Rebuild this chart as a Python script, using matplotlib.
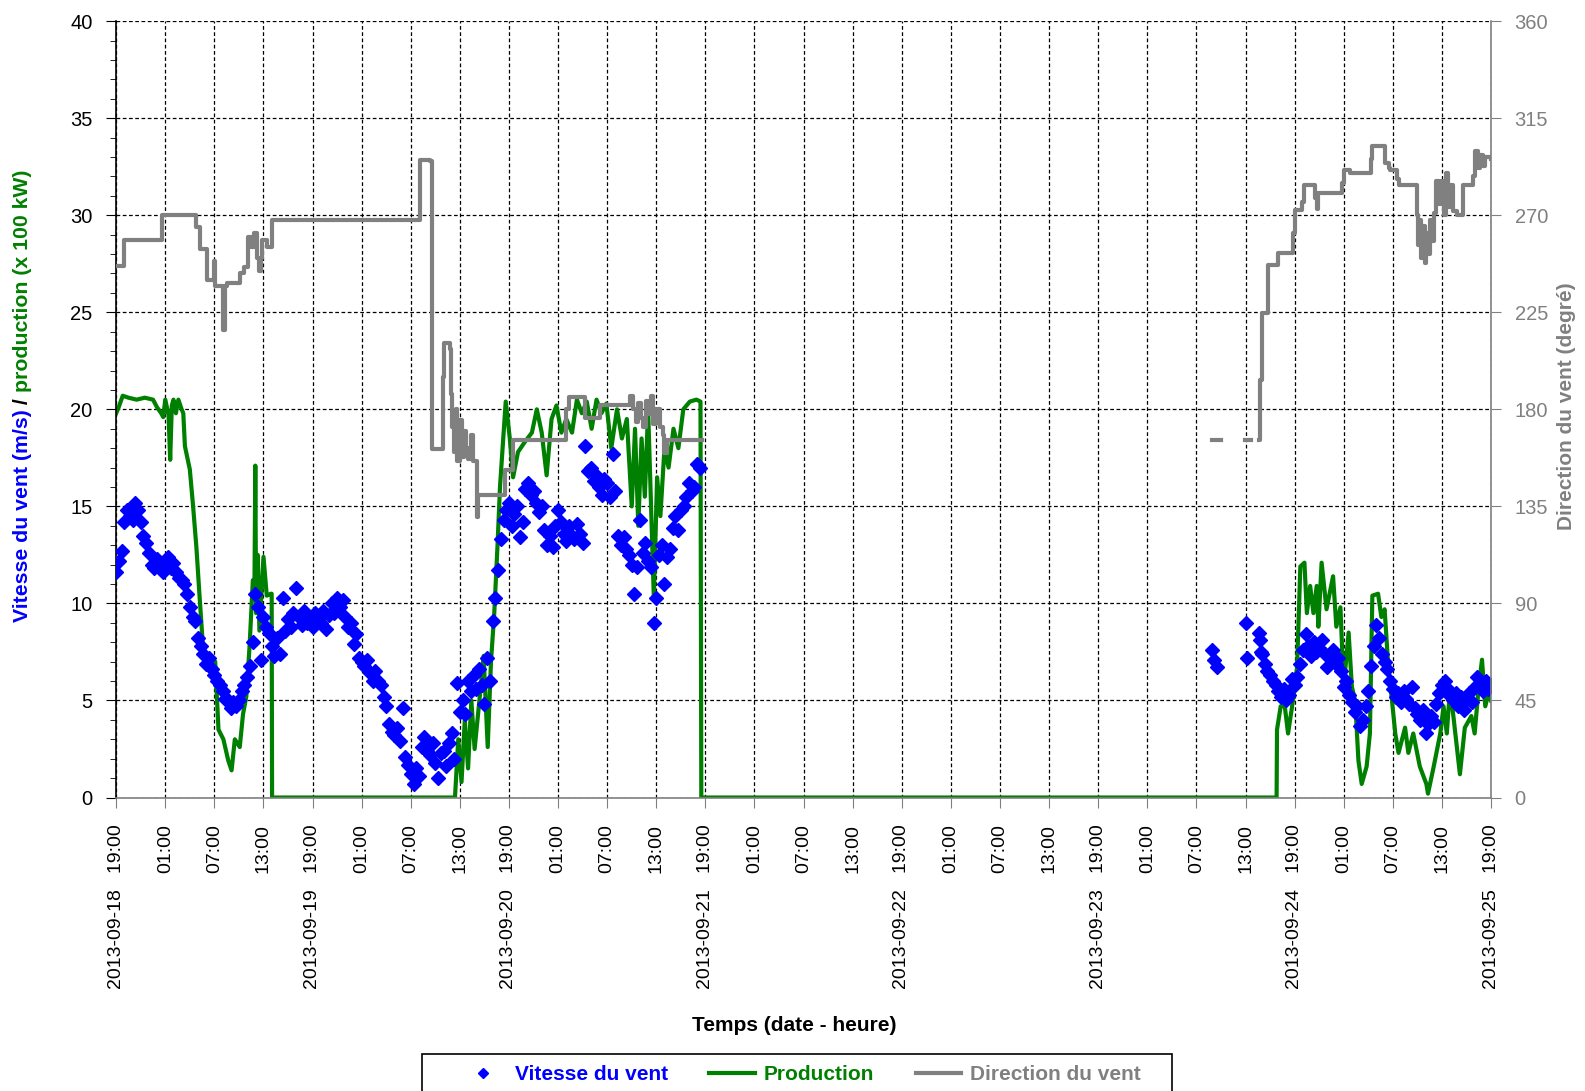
import numpy as np
import matplotlib
matplotlib.use('Agg')
import matplotlib.pyplot as plt
from matplotlib.lines import Line2D
from matplotlib.patches import Rectangle
from matplotlib.ticker import MultipleLocator

plt.rcParams['font.family'] = ['Liberation Sans', 'DejaVu Sans']

BLUE = '#0000FF'
GREEN = '#008000'
GREY = '#808080'

# --- wind speed (m/s), one value every 20 min ---
# 2013-09-18 19:00 -> 2013-09-21 18:20
ws_a = [11.6, 12.2, 12.7, 14.2, 14.8, 14.5, 14.3, 15.2, 14.8, 14.2, 13.5, 13.1,
        12.6, 12.0, 11.8, 12.3, 11.9, 11.6, 12.0, 12.4, 11.8, 12.1, 11.6, 11.3,
        11.2, 11.0, 10.5, 9.8, 9.3, 9.1, 8.2, 7.8, 7.4, 6.9, 7.2, 6.6,
        6.3, 6.0, 5.8, 5.5, 5.1, 5.0, 4.6, 4.9, 4.7, 5.0, 5.5, 5.8,
        6.2, 6.8, 8.0, 10.5, 9.8, 7.1, 9.3, 8.8, 8.5, 7.8, 7.3, 8.2,
        7.4, 10.3, 8.6, 9.2, 8.8, 9.5, 10.8, 9.3, 8.9, 9.6, 9.0, 9.3,
        8.8, 9.5, 9.2, 9.0, 9.6, 8.7, 9.4, 10.0, 9.5, 10.3, 9.8, 10.2,
        9.3, 8.8, 9.0, 7.9, 8.4, 7.2, 7.0, 6.8, 7.1, 6.4, 6.0, 6.5,
        6.0, 5.8, 5.2, 4.7, 3.8, 3.4, 3.2, 3.6, 2.9, 4.6, 2.1, 1.7,
        1.2, 0.7, 1.5, 1.1, 2.6, 3.1, 2.4, 2.2, 2.8, 1.8, 1.0, 2.3,
        2.4, 1.6, 2.8, 3.3, 2.0, 5.9, 4.4, 5.0, 4.3, 6.0, 5.5, 6.3,
        5.6, 6.6, 5.8, 4.8, 7.2, 6.0, 9.1, 10.3, 11.7, 13.3, 14.3, 14.8,
        15.2, 14.0, 14.6, 15.0, 13.4, 14.2, 15.9, 16.2, 15.6, 15.8, 15.2, 14.7,
        15.0, 13.8, 13.0, 13.5, 12.9, 14.0, 14.8, 14.2, 13.6, 13.2, 14.0, 13.5,
        13.3, 14.1, 13.6, 13.1, 18.1, 16.8, 17.0, 16.3, 16.6, 16.0, 15.6, 16.4,
        16.2, 15.5, 17.7, 15.8, 13.5, 13.0, 13.4, 12.8, 12.5, 12.0, 10.5, 11.9,
        14.3, 12.6, 13.1, 12.2, 11.9, 9.0, 10.3, 12.5, 13.0, 11.0, 12.4, 12.8,
        13.9, 14.5, 13.8, 14.8, 15.0, 15.5, 16.2, 15.8, 16.0, 17.2, 17.0]
# isolated readings on 2013-09-24 morning (hours from start)
ws_b_h = [133.9, 134.2, 134.5, 138.1, 138.2, 139.7, 139.8, 139.9]
ws_b = [7.6, 7.1, 6.7, 9.0, 7.2, 8.5, 8.1, 7.5]
# 2013-09-24 11:00 -> 2013-09-25 19:00
ws_c = [7.4, 6.9, 6.5, 6.3, 6.0, 5.8, 5.5, 5.2, 5.6, 5.0, 5.3, 6.1,
        5.8, 6.2, 6.9, 7.6, 8.4, 7.8, 7.3, 8.0, 7.5, 7.7, 8.1, 7.4,
        6.7, 7.3, 7.6, 6.9, 7.2, 6.5, 5.7, 6.0, 5.3, 4.9, 4.4, 4.7,
        3.7, 4.0, 4.7, 5.5, 6.8, 7.8, 8.9, 8.2, 7.4, 7.0, 6.6, 6.0,
        5.6, 5.2, 5.4, 4.9, 5.5, 5.1, 4.8, 5.7, 4.6, 4.3, 4.0, 4.5,
        3.3, 3.8, 4.2, 3.9, 4.8, 5.4, 5.8, 6.0, 5.4, 5.5, 5.0, 5.4,
        4.7, 5.2, 4.5, 5.0, 5.4, 4.9, 5.7, 6.2, 5.8, 5.5, 6.0, 5.6, 5.8]

# --- production (x 100 kW): hours from start, value ---
prod_h = [0, 0.3, 0.8, 1.5, 2.5, 3.5, 4.5, 5.0, 5.5, 5.75, 6.0, 6.4, 6.6, 6.8,
          7.0, 7.3, 7.6, 8.0, 8.2, 8.4, 9.0, 9.4, 9.8, 10.2, 10.6, 11.0, 11.5,
          12.1, 12.5, 13.1, 13.7, 14.1, 14.5, 15.1, 15.5, 15.9, 16.3, 16.7,
          16.9, 17.0, 17.1, 17.3, 17.5, 18.0, 18.4, 18.9, 19.0, 19.05,
          41.4, 41.8, 42.2, 42.6, 43.0, 43.4, 43.8, 44.5, 44.9, 45.4, 45.8,
          46.2, 46.6, 46.9, 47.3, 47.6, 48.1, 48.5, 49.1, 49.9, 50.8, 51.4,
          52.0, 52.6, 53.2, 53.8, 54.4, 55.0, 55.7, 56.3, 56.9, 57.5, 58.1,
          58.7, 59.3, 59.9, 60.5, 61.2, 61.8, 62.4, 63.0, 63.4, 63.8, 64.2,
          64.6, 65.0, 65.4, 65.7, 66.1, 66.5, 67.0, 67.5, 68.1, 68.7, 69.3,
          70.1, 70.9, 71.4, 71.5,
          141.8, 141.85, 142.3, 142.8, 143.2, 143.8, 144.3, 144.7, 145.2,
          145.5, 145.9, 146.3, 146.7, 146.9, 147.3, 147.9, 148.7, 149.1,
          149.6, 150.0, 150.6, 151.0, 151.4, 151.8, 152.2, 152.8, 153.2,
          153.5, 154.2, 154.6, 155.0, 155.5, 155.9, 156.3, 156.7, 157.5,
          157.9, 158.5, 159.3, 160.1, 160.3, 161.0, 161.8, 162.2, 162.6,
          163.0, 163.4, 164.2, 164.8, 165.6, 166.0, 166.5, 166.9, 167.3,
          167.7, 168.0]
prod = [19.8, 20.1, 20.7, 20.6, 20.5, 20.6, 20.5, 20.1, 19.8, 19.6, 20.5, 19.7, 17.4, 20.2,
        20.5, 19.8, 20.5, 20.0, 19.8, 18.1, 16.9, 15.0, 12.9, 10.3, 7.8, 7.4, 7.1,
        7.0, 3.5, 3.0, 1.9, 1.4, 3.0, 2.6, 4.3, 5.2, 7.8, 11.2,
        11.0, 17.1, 9.5, 12.5, 8.6, 12.4, 10.4, 10.5, 10.5, 0,
        0, 3.0, 0.8, 4.0, 1.5, 5.0, 2.5, 5.5, 7.3, 2.6, 7.0,
        9.5, 13.0, 16.0, 18.5, 20.4, 18.5, 16.5, 17.8, 18.3, 18.8, 20.0,
        18.8, 16.6, 19.5, 20.2, 18.8, 19.5, 18.8, 20.5, 19.8, 20.4, 19.0,
        20.5, 19.8, 20.3, 18.0, 20.0, 18.5, 19.5, 15.0, 19.0, 14.0, 18.5,
        15.5, 20.0, 14.5, 10.3, 16.5, 14.5, 18.0, 17.0, 19.0, 18.0, 20.0,
        20.4, 20.5, 20.4, 0,
        0, 3.5, 4.7, 4.7, 3.3, 5.0, 6.7, 11.9, 12.1,
        9.5, 10.9, 9.5, 10.9, 8.8, 12.1, 9.7, 11.4, 8.8,
        9.8, 5.7, 8.5, 5.7, 5.0, 1.9, 0.7, 1.6, 3.3,
        10.4, 10.5, 9.3, 9.7, 6.4, 5.0, 3.3, 2.3, 3.6,
        2.3, 3.3, 1.6, 0.7, 0.2, 1.6, 3.3, 4.7, 3.3,
        5.7, 4.2, 1.2, 3.6, 4.2, 3.3, 5.7, 7.1, 4.7,
        5.4, 5.0]

# --- wind direction (degrees), step values: hours from start, value ---
dir_h = [0, 0.9, 5.55, 9.8, 10.2, 11.05, 11.9, 12.1, 13.1, 13.3, 13.5, 15.1, 15.6,
         16.1, 16.5, 16.9, 17.2, 17.4, 17.7, 17.8, 18.4, 19.0, 37.1, 38.4, 38.55,
         38.6, 39.8, 39.9, 40.0, 40.8, 40.9, 41.0, 41.3, 41.5, 41.7, 42.0, 42.2,
         42.5, 42.8, 43.0, 43.3, 43.6, 44.1, 44.2, 47.5, 48.5, 55.0, 55.3, 57.3,
         59.1, 62.8, 63.2, 63.5, 63.8, 64.1, 64.4, 64.7, 65.0, 65.3, 65.6, 66.0,
         66.4, 66.8, 67.0, 67.3, 71.5,
         71.6, 133.9, 134.9, 135.0, 137.9, 138.6, 138.7,
         139.6, 139.8, 140.0, 140.7, 140.8, 142.0, 143.8, 144.0, 144.9, 145.1,
         146.5, 146.7, 146.9, 149.8, 150.0, 150.8, 153.3, 153.5, 155.0, 155.5,
         155.7, 156.5, 156.7, 158.9, 159.1, 159.3, 159.5, 159.7, 159.9, 160.1,
         160.3, 160.5, 160.8, 161.0, 161.3, 161.6, 161.9, 162.2, 162.5, 162.8,
         163.1, 163.4, 163.8, 164.6, 165.8, 166.1, 166.4, 166.7, 167.0, 167.3,
         168.0]
direction = [246.5, 258.3, 270.2, 264.7, 254.4, 240, 249, 237, 217, 237, 238.5, 243, 246,
             260, 255.5, 262, 250, 244, 250, 258.6, 255.5, 267.8, 295.7, 295, 176,
             161.4, 161.4, 195, 210.6, 208, 187, 172, 160, 180, 156, 175, 158,
             170, 162, 157, 168, 156, 130, 140.3, 151.9, 165.8, 180, 185.9, 175.8,
             182, 186, 180, 174, 183, 176, 172, 184, 178, 186, 173, 180,
             172, 168, 159.6, 166, 166,
             np.nan, 166, 166, np.nan, 166, 166, np.nan,
             166, 193.6, 224.6, 235.4, 247, 252.4, 262, 272.5, 276, 284,
             278, 273, 280.2, 285, 291, 289.5, 296, 302, 294, 292,
             291, 287, 284, 270, 256, 268, 250, 265, 248, 262,
             252, 268, 258, 271, 286, 275, 286, 270, 289.5, 274,
             284, 272, 270, 284, 288, 300, 292, 298, 293, 297,
             296]

t0 = np.datetime64('2013-09-18T19:00')


def to_time(hours):
    return t0 + np.round(np.asarray(hours, float) * 60).astype('timedelta64[m]')


ws_a_h = np.arange(len(ws_a)) / 3.0
ws_c_h = 140 + np.arange(len(ws_c)) / 3.0

tick_h = np.arange(0, 169, 6)
tick_lbl = []
for h in tick_h:
    t = to_time(h)
    s = str(t)
    if h % 24 == 0:
        tick_lbl.append(s[:10] + '   ' + s[11:16])
    else:
        tick_lbl.append(s[11:16])

fig = plt.figure(figsize=(15.85, 10.91), dpi=100)
ax = fig.add_axes([0.0733, 0.269, 0.8674, 0.7116])
ax2 = ax.twinx()

ax.plot(to_time(prod_h), prod, color=GREEN, lw=3.0, zorder=2)
ax.plot(to_time(ws_a_h), ws_a, 'D', color=BLUE, ms=7.2, mec=BLUE, zorder=3)
ax.plot(to_time(ws_b_h), ws_b, 'D', color=BLUE, ms=7.2, mec=BLUE, zorder=3)
ax.plot(to_time(ws_c_h), ws_c, 'D', color=BLUE, ms=7.2, mec=BLUE, zorder=3)
ax2.step(to_time(dir_h), direction, where='post', color=GREY, lw=3.0)

ax.set_xlim(to_time(0), to_time(168))
ax.set_ylim(0, 40)
ax2.set_ylim(0, 360)
ax.yaxis.set_major_locator(MultipleLocator(5))
ax.yaxis.set_minor_locator(MultipleLocator(1))
ax2.yaxis.set_major_locator(MultipleLocator(45))

ax.set_xticks(to_time(tick_h))
ax.set_xticklabels(tick_lbl, rotation=90)
ax.grid(True, which='major', color='black', linestyle=(0, (3, 2)), linewidth=0.9)
ax.set_axisbelow(True)

ax.tick_params(axis='x', direction='out', length=7, color=GREY, pad=12, labelsize=14)
ax.tick_params(axis='y', which='major', direction='out', length=7, color='black',
               pad=10, labelsize=14.5)
ax.tick_params(axis='y', which='minor', direction='out', length=4, color='black')
ax2.tick_params(axis='y', direction='out', length=7, color=GREY, pad=10,
                labelsize=14.5, labelcolor=GREY)

for name in ['top', 'right']:
    ax.spines[name].set_visible(False)
for name in ['top', 'left', 'bottom']:
    ax2.spines[name].set_visible(False)
ax.spines['left'].set_color('black')
ax.spines['left'].set_linewidth(1.2)
ax.spines['bottom'].set_color(GREY)
ax.spines['bottom'].set_linewidth(1.2)
ax2.spines['right'].set_color(GREY)
ax2.spines['right'].set_linewidth(1.2)

# axis titles
fig.text(0.5013, 0.0596, 'Temps (date - heure)', fontsize=15, fontweight='bold',
         ha='center', va='center')
fig.text(0.9886, 0.628, 'Direction du vent (degré)', fontsize=15, fontweight='bold',
         color=GREY, rotation=90, ha='center', va='center')

# two-colour left title
parts = [('Vitesse du vent (m/s)', BLUE), (' / ', 'black'),
         ('production (x 100 kW)', GREEN)]
renderer = fig.canvas.get_renderer()
pieces = []
for s, c in parts:
    pieces.append(fig.text(0.014, 0, s, color=c, rotation=90, fontsize=15.3,
                           fontweight='bold', ha='center', va='bottom'))
inv = fig.transFigure.inverted()
lengths = []
for p in pieces:
    bb = p.get_window_extent(renderer)
    lengths.append(inv.transform((0, bb.height))[1] - inv.transform((0, 0))[1])
y = 0.637 - sum(lengths) / 2
for p, L in zip(pieces, lengths):
    p.set_y(y)
    y += L

# legend
handles = [Line2D([], [], marker='D', color=BLUE, linestyle='None', markersize=5),
           Line2D([], [], color=GREEN, lw=3),
           Line2D([], [], color=GREY, lw=3)]
labels = ['Vitesse du vent', 'Production', 'Direction du vent']
leg = fig.legend(handles, labels, loc='center', bbox_to_anchor=(0.505, 0.0151),
                 ncol=3, frameon=False, borderpad=0, handlelength=2.2,
                 handletextpad=0.4, columnspacing=2.0,
                 prop={'weight': 'bold', 'size': 15})
for txt, c in zip(leg.get_texts(), [BLUE, GREEN, GREY]):
    txt.set_color(c)
fig.patches.append(Rectangle((0.266, -0.02), 0.4737, 0.0539, transform=fig.transFigure,
                             fill=False, edgecolor='black', lw=1.2))

fig.savefig('out.png', dpi=100)
